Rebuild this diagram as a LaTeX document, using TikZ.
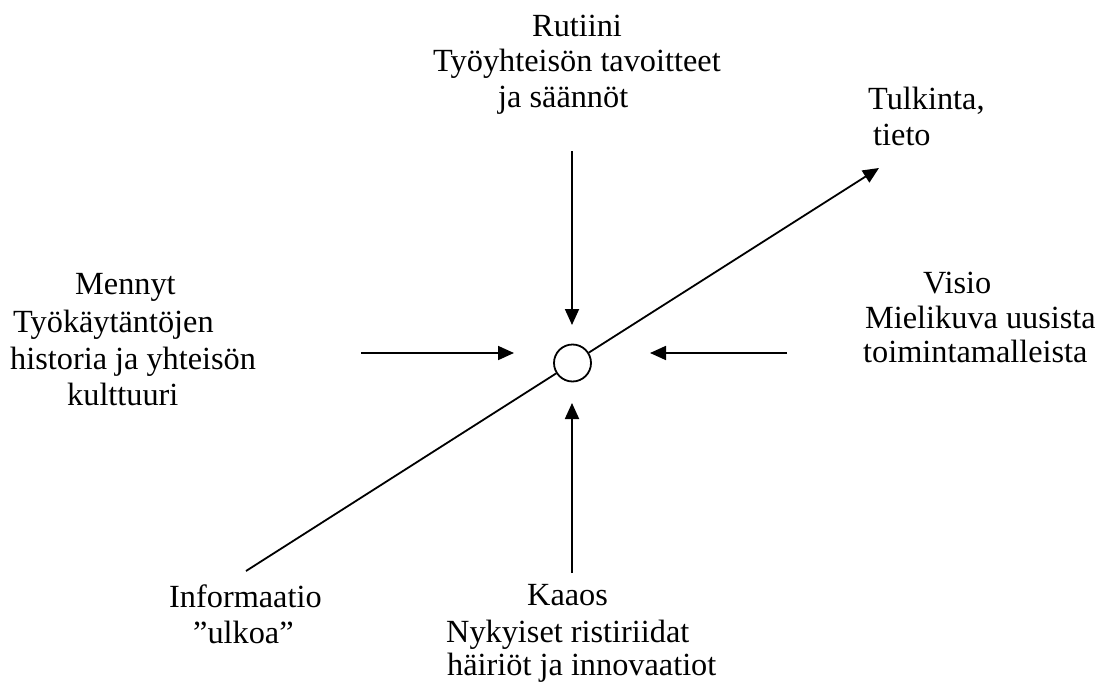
\documentclass[tikz,border=0pt]{standalone}
\usepackage{fontspec}
\setmainfont{Liberation Serif}
\usetikzlibrary{arrows.meta}

\tikzset{
  txt/.style={anchor=base west, inner sep=0pt, font=\fontsize{32.3}{38}\selectfont},
  link/.style={line width=1.8pt},
  arr/.style={link, -{Triangle[length=16pt,width=14pt]}},
  hub/.style={circle, draw, fill=white, line width=1.8pt, minimum size=37pt, inner sep=0pt}
}

\begin{document}
\begin{tikzpicture}[x=1pt, y=-1pt]
  \useasboundingbox (0,0) rectangle (1095,685);

  % centre
  \node[hub] (c) at (572.5,363) {};

  % free ends of the arrows
  \coordinate (topS) at (572,151);   \coordinate (topE) at (572,325);
  \coordinate (botS) at (572,573);   \coordinate (botE) at (572,403);
  \coordinate (lftS) at (361,353);   \coordinate (lftE) at (514,353);
  \coordinate (rgtS) at (787,353);   \coordinate (rgtE) at (650,353);
  \coordinate (info) at (246,571);   \coordinate (tulk) at (879,168);

  % arrows towards the centre
  \draw[arr] (topS) -- (topE);
  \draw[arr] (botS) -- (botE);
  \draw[arr] (lftS) -- (lftE);
  \draw[arr] (rgtS) -- (rgtE);

  % diagonal through the centre
  \draw[link] (info) -- (c);
  \draw[arr] (c) -- (tulk);

  % labels
  \node[txt] (rut1) at (532,37)  {Rutiini};
  \node[txt] (rut2) at (433,72)  {Työyhteisön tavoitteet};
  \node[txt] (rut3) at (498,107) {ja säännöt};

  \node[txt] (tul1) at (868,109) {Tulkinta,};
  \node[txt] (tul2) at (873,145) {tieto};

  \node[txt] (men1) at (75,294)  {Mennyt};
  \node[txt] (men2) at (13,332)  {Työkäytäntöjen};
  \node[txt] (men3) at (10,369)  {historia ja yhteisön};
  \node[txt] (men4) at (67,405)  {kulttuuri};

  \node[txt] (vis1) at (923,293) {Visio};
  \node[txt] (vis2) at (865,328) {Mielikuva uusista};
  \node[txt] (vis3) at (863,362) {toimintamalleista};

  \node[txt] (inf1) at (169,607) {Informaatio};
  \node[txt] (inf2) at (193,643) {”ulkoa”};

  \node[txt] (kaa1) at (527,605) {Kaaos};
  \node[txt] (kaa2) at (446,642) {Nykyiset ristiriidat};
  \node[txt] (kaa3) at (447,675) {häiriöt ja innovaatiot};
\end{tikzpicture}
\end{document}
